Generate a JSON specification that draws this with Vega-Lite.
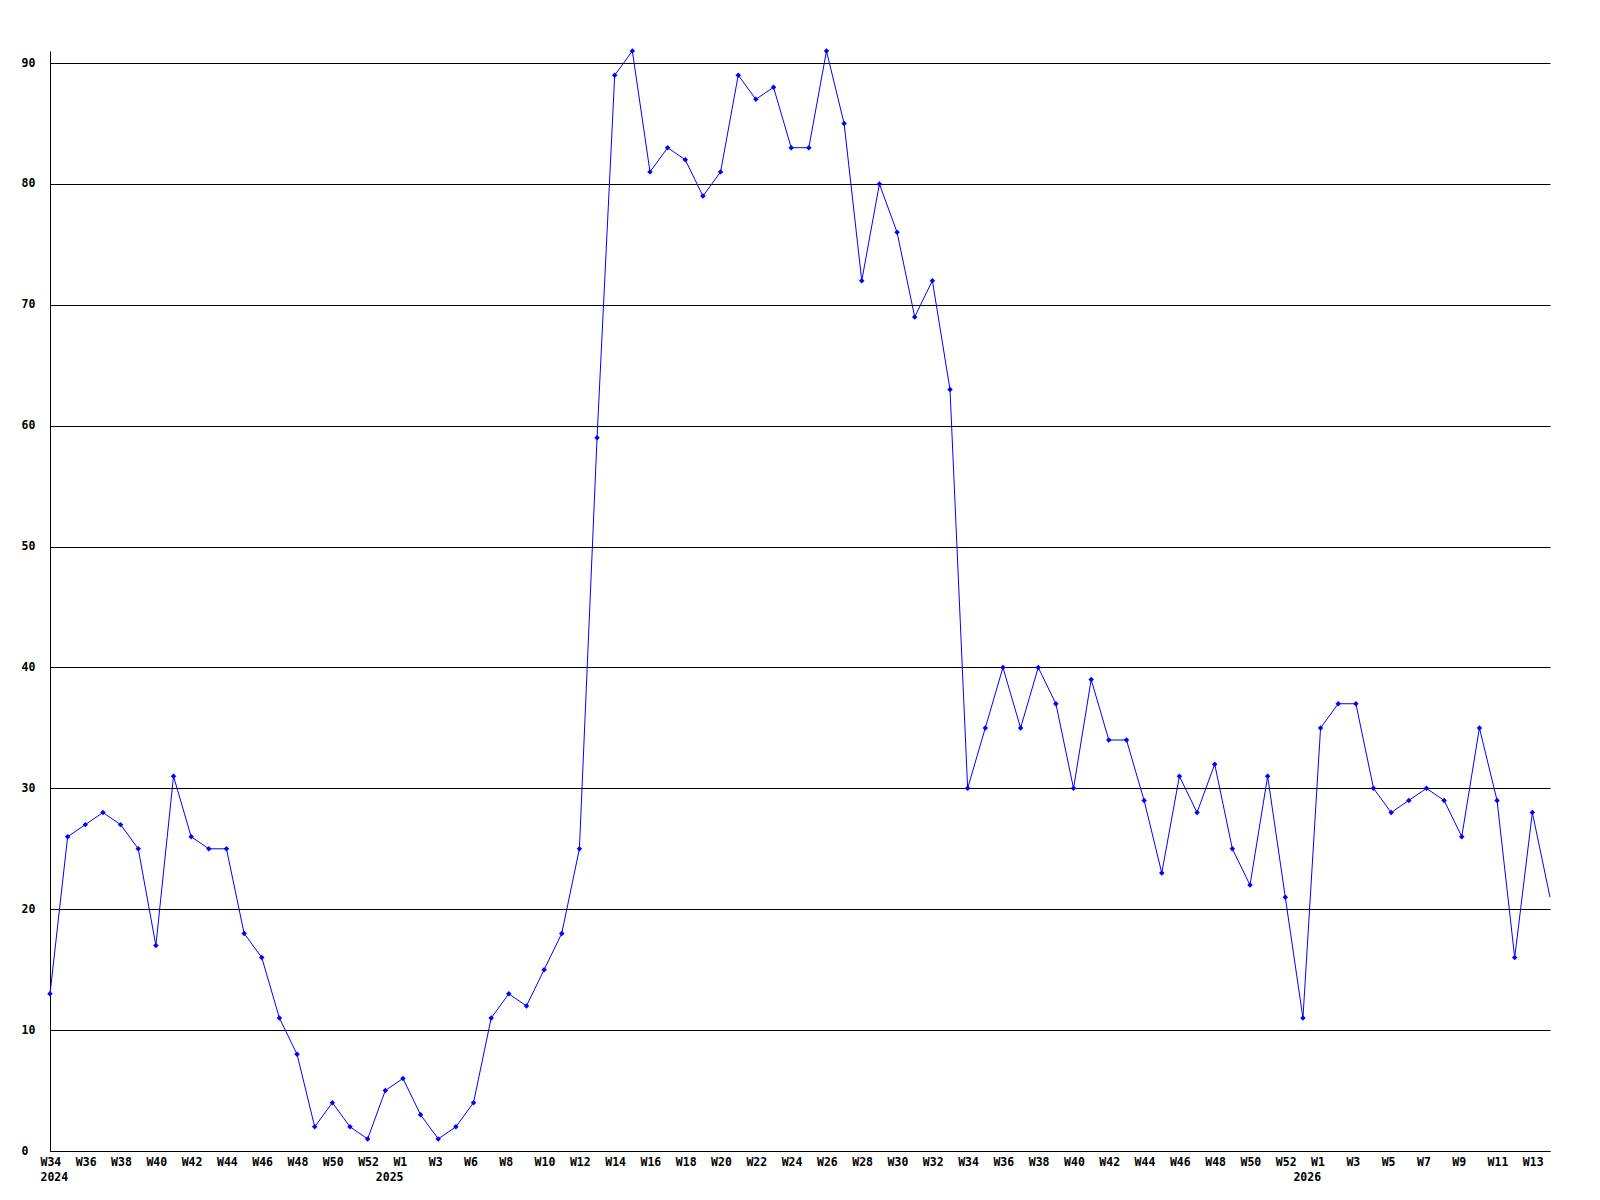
{
  "$schema": "https://vega.github.io/schema/vega-lite/v6.json",
  "width": 1500,
  "height": 1100,
  "autosize": "none",
  "padding": {"left": 50, "top": 51, "right": 50, "bottom": 49},
  "background": "white",
  "config": {
    "view": {"stroke": null},
    "axis": {
      "labelFont": "DejaVu Sans Mono",
      "labelFontWeight": "bold",
      "labelFontSize": 11.5,
      "labelColor": "black",
      "domainColor": "black",
      "domainWidth": 1,
      "ticks": false,
      "title": null
    }
  },
  "data": {
    "values": [
      {"i":0,"v":13},{"i":1,"v":26},{"i":2,"v":27},{"i":3,"v":28},{"i":4,"v":27},{"i":5,"v":25},{"i":6,"v":17},{"i":7,"v":31},{"i":8,"v":26},{"i":9,"v":25},
      {"i":10,"v":25},{"i":11,"v":18},{"i":12,"v":16},{"i":13,"v":11},{"i":14,"v":8},{"i":15,"v":2},{"i":16,"v":4},{"i":17,"v":2},{"i":18,"v":1},{"i":19,"v":5},
      {"i":20,"v":6},{"i":21,"v":3},{"i":22,"v":1},{"i":23,"v":2},{"i":24,"v":4},{"i":25,"v":11},{"i":26,"v":13},{"i":27,"v":12},{"i":28,"v":15},{"i":29,"v":18},
      {"i":30,"v":25},{"i":31,"v":59},{"i":32,"v":89},{"i":33,"v":91},{"i":34,"v":81},{"i":35,"v":83},{"i":36,"v":82},{"i":37,"v":79},{"i":38,"v":81},{"i":39,"v":89},
      {"i":40,"v":87},{"i":41,"v":88},{"i":42,"v":83},{"i":43,"v":83},{"i":44,"v":91},{"i":45,"v":85},{"i":46,"v":72},{"i":47,"v":80},{"i":48,"v":76},{"i":49,"v":69},
      {"i":50,"v":72},{"i":51,"v":63},{"i":52,"v":30},{"i":53,"v":35},{"i":54,"v":40},{"i":55,"v":35},{"i":56,"v":40},{"i":57,"v":37},{"i":58,"v":30},{"i":59,"v":39},
      {"i":60,"v":34},{"i":61,"v":34},{"i":62,"v":29},{"i":63,"v":23},{"i":64,"v":31},{"i":65,"v":28},{"i":66,"v":32},{"i":67,"v":25},{"i":68,"v":22},{"i":69,"v":31},
      {"i":70,"v":21},{"i":71,"v":11},{"i":72,"v":35},{"i":73,"v":37},{"i":74,"v":37},{"i":75,"v":30},{"i":76,"v":28},{"i":77,"v":29},{"i":78,"v":30},{"i":79,"v":29},
      {"i":80,"v":26},{"i":81,"v":35},{"i":82,"v":29},{"i":83,"v":16},{"i":84,"v":28},{"i":85,"v":21}
    ]
  },
  "encoding": {
    "x": {
      "field": "i",
      "type": "quantitative",
      "scale": {"domain": [0, 85], "nice": false, "zero": false},
      "axis": {
        "values": [0,2,4,6,8,10,12,14,16,18,19,20,22,24,26,28,30,32,34,36,38,40,42,44,46,48,50,52,54,56,58,60,62,64,66,68,70,71,72,74,76,78,80,82,84],
        "grid": false,
        "labelAlign": "left",
        "labelOffset": -10,
        "labelBaseline": "top",
        "labelPadding": 5,
        "labelLineHeight": 15.5,
        "labelOverlap": false,
        "labelBound": false,
        "labelFlush": false,
        "labelExpr": "({'0':['W34','2024'],'2':'W36','4':'W38','6':'W40','8':'W42','10':'W44','12':'W46','14':'W48','16':'W50','18':'W52','19':['','2025'],'20':'W1','22':'W3','24':'W6','26':'W8','28':'W10','30':'W12','32':'W14','34':'W16','36':'W18','38':'W20','40':'W22','42':'W24','44':'W26','46':'W28','48':'W30','50':'W32','52':'W34','54':'W36','56':'W38','58':'W40','60':'W42','62':'W44','64':'W46','66':'W48','68':'W50','70':'W52','71':['','2026'],'72':'W1','74':'W3','76':'W5','78':'W7','80':'W9','82':'W11','84':'W13'})[''+datum.value]"
      }
    },
    "y": {
      "field": "v",
      "type": "quantitative",
      "scale": {"domain": [0, 91], "nice": false},
      "axis": {
        "values": [0,10,20,30,40,50,60,70,80,90],
        "grid": true,
        "gridColor": "black",
        "gridOpacity": 1,
        "gridWidth": 1,
        "labelAlign": "left",
        "labelBaseline": "middle",
        "labelPadding": 29
      }
    }
  },
  "layer": [
    {"mark": {"type": "line", "color": "#0000ff", "strokeWidth": 1, "interpolate": "linear"}},
    {
      "transform": [{"filter": "datum.i < 85"}],
      "mark": {"type": "point", "shape": "diamond", "filled": true, "color": "#0000ff", "size": 30, "opacity": 1}
    }
  ]
}
